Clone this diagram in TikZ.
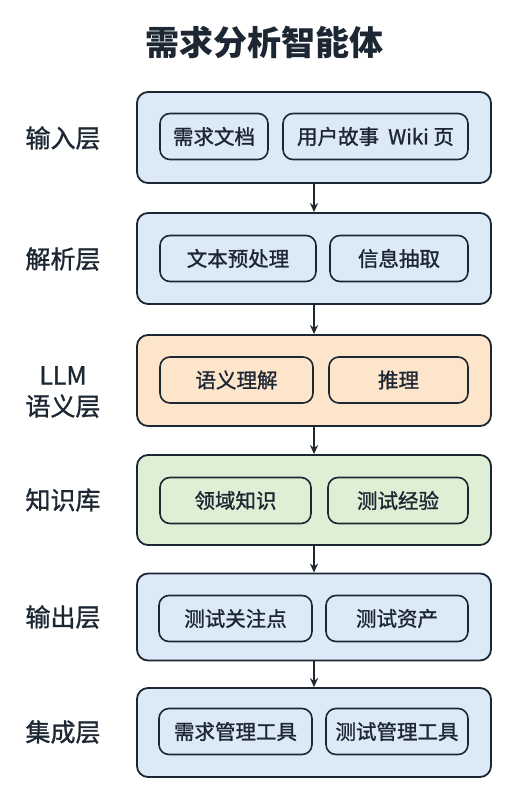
\documentclass[tikz,border=0pt]{standalone}
\usepackage{fontspec}
\setmainfont{Noto Sans CJK SC}
\newfontfamily\medfont{Noto Sans CJK SC}[FakeBold=1.2]
\usetikzlibrary{arrows.meta}

\definecolor{inkdark}{HTML}{1C2733}
\definecolor{layerblue}{HTML}{DCEAF7}
\definecolor{layerorange}{HTML}{FDE5CB}
\definecolor{layergreen}{HTML}{DDF0D6}

\begin{document}
\begin{tikzpicture}[x=1pt, y=-1pt]
    % Styles for the layers, the boxes inside them and the side labels
    \tikzset{
        % outer layer box
        layer/.style={draw=inkdark, line width=1.8pt, rounded corners=11pt,
            fill=#1, minimum width=354pt, inner sep=0pt},
        % inner item box
        item/.style={draw=inkdark, line width=1.6pt, rounded corners=10pt,
            fill=#1, minimum height=46pt, inner sep=0pt, text=inkdark,
            font=\medfont\fontsize{20.5}{22}\selectfont},
        % label on the left side
        side/.style={text=inkdark, align=center,
            font=\medfont\fontsize{25}{31}\selectfont},
        % connector between layers
        flow/.style={draw=inkdark, line width=1.4pt,
            -{Stealth[length=9pt, width=8pt]}}
    }
    \useasboundingbox (0,0) rectangle (516,792);

    % Title
    \node[text=inkdark, font=\fontsize{34}{36}\selectfont\bfseries] (title) at (264,42) {需求分析智能体};

    % Outer layers
    \node[layer=layerblue, minimum height=91pt] (L1) at (314,137.5) {};
    \node[layer=layerblue, minimum height=91pt] (L2) at (314,258.5) {};
    \node[layer=layerorange, minimum height=91pt] (L3) at (314,380.5) {};
    \node[layer=layergreen, minimum height=90pt] (L4) at (314,500) {};
    \node[layer=layerblue, minimum height=87pt] (L5) at (314,617) {};
    \node[layer=layerblue, minimum height=89pt] (L6) at (314,732.5) {};

    % Side labels
    \node[side] (S1) at (63,138) {输入层};
    \node[side] (S2) at (63,259) {解析层};
    \node[side] (S3) at (63,392) {LLM\\语义层};
    \node[side] (S4) at (63,500) {知识库};
    \node[side] (S5) at (63,617) {输出层};
    \node[side] (S6) at (63,732) {集成层};

    % Input layer
    \node[item=layerblue, minimum width=108pt] (A1) at (214,136.5) {需求文档};
    \node[item=layerblue, minimum width=185pt] (A2) at (375.5,136.5) {用户故事\ \ Wiki 页};

    % Parsing layer
    \node[item=layerblue, minimum width=156pt] (B1) at (238,258.5) {文本预处理};
    \node[item=layerblue, minimum width=138pt] (B2) at (399,258.5) {信息抽取};

    % LLM semantic layer
    \node[item=layerorange, minimum width=153pt] (C1) at (236.5,380) {语义理解};
    \node[item=layerorange, minimum width=139pt] (C2) at (398.5,380) {推理};

    % Knowledge base
    \node[item=layergreen, minimum width=151pt] (D1) at (235.5,500.5) {领域知识};
    \node[item=layergreen, minimum width=140pt] (D2) at (398,500.5) {测试经验};

    % Output layer
    \node[item=layerblue, minimum width=153pt] (E1) at (235.5,618.5) {测试关注点};
    \node[item=layerblue, minimum width=142pt] (E2) at (397,618.5) {测试资产};

    % Integration layer
    \node[item=layerblue, minimum width=153pt] (F1) at (235.5,731.5) {需求管理工具};
    \node[item=layerblue, minimum width=142pt] (F2) at (397,731.5) {测试管理工具};

    % Connectors between layers
    \draw[flow] (L1) -- (L2);
    \draw[flow] (L2) -- (L3);
    \draw[flow] (L3) -- (L4);
    \draw[flow] (L4) -- (L5);
    \draw[flow] (L5) -- (L6);
\end{tikzpicture}
\end{document}
